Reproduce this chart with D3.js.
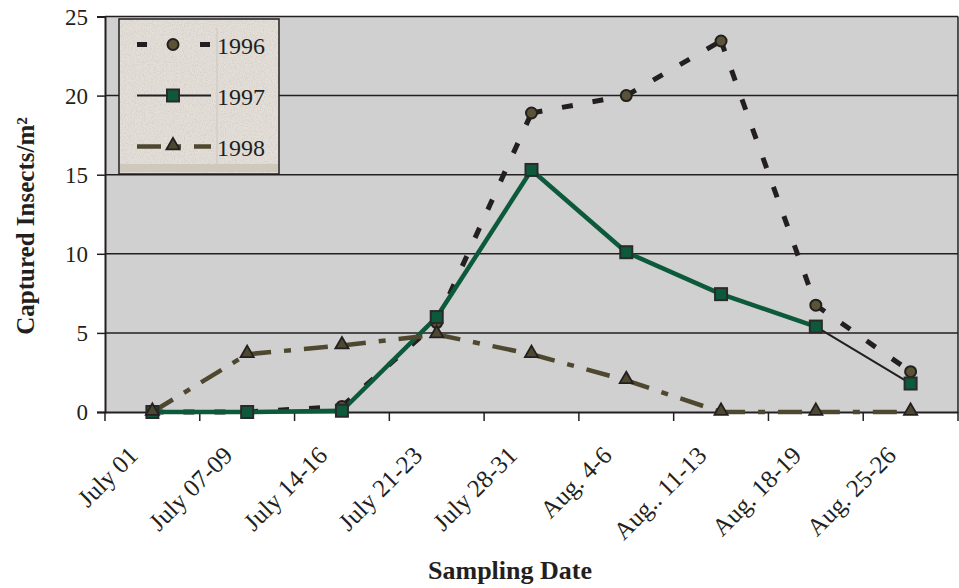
<!DOCTYPE html>
<html>
<head>
<meta charset="utf-8">
<script src="https://cdn.jsdelivr.net/npm/d3@7"></script>
<style>
body{margin:0;background:#fff}
</style>
</head>
<body>
<svg id="chart"></svg>
<script>
var dates = ["July 01","July 07-09","July 14-16","July 21-23","July 28-31","Aug. 4-6","Aug.. 11-13","Aug. 18-19","Aug. 25-26"];
var y1996 = [0,0,0.35,5.65,18.9,20.0,23.45,6.75,2.55];
var y1997 = [0,0,0.08,6.0,15.3,10.1,7.45,5.4,1.8];
var y1998 = [0,3.65,4.2,4.9,3.65,2.0,0,0,0];
var yTicks = [0,5,10,15,20,25];
var years = ["1996","1997","1998"];

var screen = {width:959, height:588};
var margins = {top:16.5, bottom:176, left:105, right:1};
var graph = {
    width:screen.width-margins.left-margins.right,
    height:screen.height-margins.top-margins.bottom
};

var ink = "#231f20";
var green = "#0c5a3b";
var olive = "#4f4830";
var serif = "'Liberation Serif', 'Times New Roman', serif";

var svg = d3.select("#chart")
    .attr("width",screen.width)
    .attr("height",screen.height);

var xScale = d3.scaleBand()
    .domain(dates)
    .range([0,graph.width]);
var yScale = d3.scaleLinear()
    .domain([0,25])
    .range([graph.height,0]);

var g = svg.append("g")
    .attr("transform","translate("+margins.left+","+margins.top+")");

// plot background
g.append("rect")
    .attr("width",graph.width)
    .attr("height",graph.height)
    .attr("fill","#d0d0d0");

// gridlines
g.selectAll(".grid")
    .data(yTicks.filter(function(d){return d>0;}))
    .enter().append("line")
    .attr("x1",0).attr("x2",graph.width)
    .attr("y1",function(d){return yScale(d);})
    .attr("y2",function(d){return yScale(d);})
    .attr("stroke",ink).attr("stroke-width",1.5);

g.append("line")
    .attr("x1",graph.width).attr("x2",graph.width)
    .attr("y1",0).attr("y2",graph.height)
    .attr("stroke",ink).attr("stroke-width",1.5);

// y axis
var yAxis = d3.axisLeft(yScale).tickValues(yTicks).tickSize(8).tickPadding(9);
var ya = g.append("g").call(yAxis);
ya.select(".domain").attr("stroke",ink).attr("stroke-width",2);
ya.selectAll(".tick line").attr("stroke",ink).attr("stroke-width",1.5);
ya.selectAll("text")
    .style("font-family",serif).style("font-size","23px")
    .attr("fill",ink).attr("dy","0.34em");

// x axis
var xAxis = d3.axisBottom(xScale).tickSize(0).tickPadding(0);
var xa = g.append("g")
    .attr("transform","translate(0,"+graph.height+")")
    .call(xAxis);
xa.select(".domain").attr("stroke",ink).attr("stroke-width",2);
xa.selectAll("text")
    .style("font-family",serif).style("font-size","25px")
    .attr("fill",ink)
    .attr("y",0).attr("dy",0)
    .attr("text-anchor","end")
    .attr("transform","translate(-13,45) rotate(-45)");

var bounds = dates.map(function(d){return xScale(d);}).concat([graph.width]);
xa.selectAll(".bound")
    .data(bounds)
    .enter().append("line")
    .attr("x1",function(d){return d;}).attr("x2",function(d){return d;})
    .attr("y1",0).attr("y2",9)
    .attr("stroke",ink).attr("stroke-width",1.5);

var cx = function(i){return xScale(dates[i])+xScale.bandwidth()/2;};

// one line per segment so the dash pattern restarts at each point
var drawSegments = function(values,from,to,stroke,width,dash)
{
    var pts = values.map(function(v,i){return [cx(i),yScale(v)];}).slice(from,to);
    g.append("g").selectAll("line")
        .data(d3.pairs(pts))
        .enter().append("line")
        .attr("x1",function(d){return d[0][0];})
        .attr("y1",function(d){return d[0][1];})
        .attr("x2",function(d){return d[1][0];})
        .attr("y2",function(d){return d[1][1];})
        .attr("stroke",stroke)
        .attr("stroke-width",width)
        .attr("stroke-dasharray",dash)
        .attr("stroke-linecap","butt");
};

drawSegments(y1996,0,9,ink,5,"11,20");
drawSegments(y1997,0,9,ink,2,null);
drawSegments(y1997,0,8,green,4.5,null);
drawSegments(y1998,0,9,olive,4.5,"24,13,7,13");

var tri = d3.symbol().type(d3.symbolTriangle).size(75);

g.append("g").selectAll("circle")
    .data(y1996).enter().append("circle")
    .attr("cx",function(d,i){return cx(i);})
    .attr("cy",function(d){return yScale(d);})
    .attr("r",5.5)
    .attr("fill","#5b5336").attr("stroke",ink).attr("stroke-width",2);

g.append("g").selectAll("rect")
    .data(y1997).enter().append("rect")
    .attr("x",function(d,i){return cx(i)-6;})
    .attr("y",function(d){return yScale(d)-6;})
    .attr("width",12).attr("height",12)
    .attr("fill",green).attr("stroke","#2a2a2a").attr("stroke-width",2);

g.append("g").selectAll("path")
    .data(y1998).enter().append("path")
    .attr("d",tri)
    .attr("transform",function(d,i){return "translate("+cx(i)+","+(yScale(d)-1)+")";})
    .attr("fill",olive).attr("stroke",ink).attr("stroke-width",1.8);

// axis titles
svg.append("text")
    .attr("transform","translate(34,226) rotate(-90)")
    .attr("text-anchor","middle")
    .style("font-family",serif).style("font-size","25px").style("font-weight","bold")
    .attr("fill",ink)
    .text("Captured Insects/m²");

svg.append("text")
    .attr("x",510).attr("y",579)
    .attr("text-anchor","middle")
    .style("font-family",serif).style("font-size","26px").style("font-weight","bold")
    .attr("fill",ink)
    .text("Sampling Date");

// legend
var defs = svg.append("defs");
var f = defs.append("filter").attr("id","grain").attr("x",0).attr("y",0).attr("width","100%").attr("height","100%");
f.append("feTurbulence").attr("type","fractalNoise").attr("baseFrequency",0.9).attr("numOctaves",2).attr("seed",4);
f.append("feColorMatrix").attr("type","matrix")
    .attr("values","0 0 0 0 0.55  0 0 0 0 0.52  0 0 0 0 0.48  0 0 0 -2.2 1.25");
f.append("feComposite").attr("operator","in").attr("in2","SourceGraphic");

var leg = svg.append("g").attr("transform","translate(119,19)");
leg.append("rect").attr("width",160).attr("height",155).attr("fill","#e3dfd8");
leg.append("rect").attr("width",160).attr("height",155).attr("fill","#e3dfd8").attr("filter","url(#grain)").attr("opacity",0.6);
leg.append("rect").attr("x",1).attr("y",145).attr("width",158).attr("height",8).attr("fill","#cfc8bd");
leg.append("line").attr("x1",98).attr("x2",98).attr("y1",9).attr("y2",145).attr("stroke","#d3cdc4").attr("stroke-width",1.5);
leg.append("rect").attr("width",160).attr("height",155).attr("fill","none").attr("stroke",ink).attr("stroke-width",1.5);

var legY = [25.5,76.5,127.5];
leg.append("line").attr("x1",18).attr("x2",92).attr("y1",legY[0]).attr("y2",legY[0])
    .attr("stroke",ink).attr("stroke-width",5).attr("stroke-dasharray","10,53");
leg.append("circle").attr("cx",54).attr("cy",legY[0]).attr("r",5.5)
    .attr("fill","#5b5336").attr("stroke",ink).attr("stroke-width",2);
leg.append("line").attr("x1",18).attr("x2",92).attr("y1",legY[1]).attr("y2",legY[1])
    .attr("stroke",ink).attr("stroke-width",2);
leg.append("rect").attr("x",48).attr("y",legY[1]-6).attr("width",12).attr("height",12)
    .attr("fill",green).attr("stroke","#2a2a2a").attr("stroke-width",2);
leg.append("line").attr("x1",18).attr("x2",92).attr("y1",legY[2]).attr("y2",legY[2])
    .attr("stroke",olive).attr("stroke-width",4.5).attr("stroke-dasharray","24,13,7,13");
leg.append("path").attr("d",tri).attr("transform","translate(54,"+(legY[2]-1)+")")
    .attr("fill",olive).attr("stroke",ink).attr("stroke-width",1.8);

leg.selectAll(".lab")
    .data(years).enter().append("text")
    .attr("x",98).attr("y",function(d,i){return legY[i]+9.5;})
    .style("font-family",serif).style("font-size","24px")
    .attr("fill",ink)
    .text(function(d){return d;});
</script>
</body>
</html>
